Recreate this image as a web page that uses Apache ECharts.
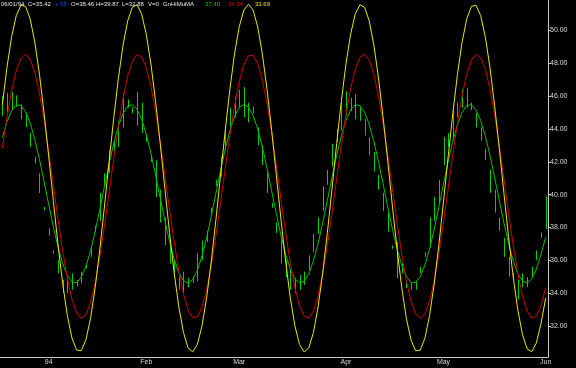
<!DOCTYPE html>
<html><head><meta charset="utf-8">
<script src="https://cdn.jsdelivr.net/npm/echarts@6/dist/echarts.min.js"></script>
<style>html,body{margin:0;padding:0;background:#000;}#c{width:576px;height:368px;}</style>
</head><body><div id="c"></div>
<script>
// Trading dates (MM/DD/YY)
const dates = [
'12/20/93','12/21/93','12/22/93','12/23/93','12/24/93','12/27/93','12/28/93','12/29/93','12/30/93','12/31/93',
'01/03/94','01/04/94','01/05/94','01/06/94','01/07/94','01/10/94','01/11/94','01/12/94','01/13/94','01/14/94',
'01/17/94','01/18/94','01/19/94','01/20/94','01/21/94','01/24/94','01/25/94','01/26/94','01/27/94','01/28/94','01/31/94',
'02/01/94','02/02/94','02/03/94','02/04/94','02/07/94','02/08/94','02/09/94','02/10/94','02/11/94',
'02/14/94','02/15/94','02/16/94','02/17/94','02/18/94','02/21/94','02/22/94','02/23/94','02/24/94','02/25/94','02/28/94',
'03/01/94','03/02/94','03/03/94','03/04/94','03/07/94','03/08/94','03/09/94','03/10/94','03/11/94',
'03/14/94','03/15/94','03/16/94','03/17/94','03/18/94','03/21/94','03/22/94','03/23/94','03/24/94','03/25/94',
'03/28/94','03/29/94','03/30/94','03/31/94',
'04/01/94','04/04/94','04/05/94','04/06/94','04/07/94','04/08/94','04/11/94','04/12/94','04/13/94','04/14/94','04/15/94',
'04/18/94','04/19/94','04/20/94','04/21/94','04/22/94','04/25/94','04/26/94','04/27/94','04/28/94','04/29/94',
'05/02/94','05/03/94','05/04/94','05/05/94','05/06/94','05/09/94','05/10/94','05/11/94','05/12/94','05/13/94',
'05/16/94','05/17/94','05/18/94','05/19/94','05/20/94','05/23/94','05/24/94','05/25/94','05/26/94','05/27/94',
'05/30/94','05/31/94','06/01/94'
];
const barHigh = [46.0,46.2,46.25,46.05,45.5,45.0,43.75,42.3,41.3,39.25,
37.95,36.6,36.0,34.8,34.95,35.2,34.8,35.3,35.7,36.9,
38.1,40.1,41.3,42.7,43.3,44.5,46.2,45.8,45.35,46.25,
45.6,43.6,42.4,42.1,40.3,38.6,37.2,36.0,35.2,35.3,
34.9,35.0,36.4,37.2,37.8,39.2,40.9,42.3,44.2,45.3,
45.95,46.4,46.55,45.6,45.35,44.1,43.0,41.4,39.5,38.3,
37.5,36.0,35.4,34.9,35.1,35.3,36.3,37.6,38.6,40.5,
41.5,43.1,44.0,45.6,46.3,45.9,46.1,45.3,44.6,43.5,
42.6,41.2,40.1,38.9,36.9,37.1,35.8,34.8,34.6,34.7,
35.6,36.5,38.6,39.85,40.9,43.5,43.75,45.15,45.6,46.4,
46.5,45.6,45.0,44.1,42.8,41.5,40.3,38.6,37.35,36.2,
35.2,34.8,35.2,34.97,35.6,36.6,37.7,39.9];
const barLow = [44.8,45.0,45.15,45.35,44.6,44.1,42.9,41.9,40.1,39.05,
37.5,36.4,35.2,34.0,34.0,34.2,34.4,34.6,35.5,36.2,
37.7,38.4,40.5,41.3,42.5,42.9,44.1,45.3,44.95,44.2,
43.75,43.2,42.0,39.85,38.3,36.9,35.8,35.2,34.2,34.0,
34.35,34.6,34.7,36.0,37.1,38.75,40.5,41.1,42.7,43.75,
44.7,45.3,44.7,44.4,44.95,43.0,41.8,40.1,39.2,37.65,
35.8,34.97,34.2,34.0,34.2,34.5,35.4,36.5,37.6,39.0,
40.6,41.7,43.2,43.9,44.8,45.1,44.6,44.5,43.6,42.4,
41.4,40.3,39.0,37.7,36.7,34.9,35.2,34.3,34.2,34.2,
35.2,36.2,36.8,38.4,39.5,41.8,42.9,43.3,44.7,45.3,
45.3,45.15,44.1,43.3,42.1,40.1,38.9,37.8,36.2,35.0,
34.8,33.6,34.35,34.35,34.97,36.0,37.35,37.9];
const greenMA = [43.47,44.44,45.12,45.46,45.44,45.06,44.35,43.36,42.14,40.79,
39.38,38.02,36.80,35.79,35.06,34.67,34.63,34.96,35.62,36.57,
37.76,39.10,40.51,41.88,43.13,44.17,44.95,45.39,45.48,45.21,
44.60,43.68,42.52,41.20,39.80,38.42,37.15,36.07,35.25,34.75,
34.60,34.82,35.39,36.26,37.39,38.69,40.09,41.48,42.78,43.89,
44.75,45.30,45.50,45.33,44.82,43.99,42.89,41.61,40.22,38.83,
37.51,36.36,35.46,34.86,34.61,34.72,35.18,35.97,37.03,38.29,
39.66,41.07,42.40,43.58,44.52,45.17,45.48,45.42,45.01,44.27,
43.24,42.01,40.65,39.24,37.89,36.69,35.70,35.01,34.65,34.65,
35.01,35.70,36.69,37.89,39.25,40.65,42.01,43.25,44.27,45.01,
45.42,45.48,45.17,44.52,43.58,42.40,41.06,39.66,38.28,37.03,
35.97,35.18,34.72,34.61,34.87,35.46,36.37,37.40];
const redMA = [42.81,44.70,46.32,47.54,48.30,48.55,48.25,47.44,46.17,44.52,
42.61,40.55,38.49,36.56,34.90,33.61,32.78,32.45,32.67,33.41,
34.62,36.21,38.10,40.14,42.21,44.16,45.87,47.22,48.13,48.53,
48.39,47.73,46.59,45.05,43.20,41.17,39.10,37.12,35.36,33.95,
32.97,32.50,32.55,33.14,34.21,35.70,37.51,39.52,41.59,43.59,
45.39,46.86,47.91,48.46,48.49,47.98,46.98,45.55,43.78,41.79,
39.72,37.70,35.86,34.33,33.21,32.58,32.48,32.91,33.84,35.21,
36.94,38.90,40.97,43.01,44.88,46.46,47.64,48.36,48.54,48.19,
47.33,46.02,44.34,42.40,40.34,38.29,36.38,34.75,33.50,32.72,
32.45,32.72,33.51,34.76,36.39,38.30,40.35,42.41,44.35,46.02,
47.34,48.20,48.54,48.35,47.64,46.45,44.87,43.00,40.96,38.89,
36.93,35.21,33.83,32.90,32.47,32.58,33.22,34.34];
const yellowMA = [45.45,47.76,49.62,50.91,51.54,51.47,50.70,49.29,47.32,44.94,
42.30,39.57,36.93,34.57,32.63,31.25,30.52,30.48,31.15,32.46,
34.35,36.68,39.30,42.03,44.69,47.11,49.12,50.59,51.42,51.57,
51.00,49.77,47.96,45.69,43.11,40.38,37.70,35.24,33.16,31.60,
30.65,30.41,30.87,32.00,33.73,35.94,38.49,41.21,43.91,46.42,
48.57,50.21,51.25,51.60,51.25,50.21,48.56,46.41,43.91,41.20,
38.49,35.94,33.73,32.00,30.86,30.41,30.66,31.60,33.16,35.24,
37.70,40.39,43.11,45.69,47.97,49.78,51.01,51.57,51.42,50.59,
49.12,47.11,44.69,42.02,39.29,36.68,34.35,32.46,31.14,30.48,
30.52,31.25,32.63,34.57,36.94,39.57,42.30,44.94,47.33,49.29,
50.70,51.47,51.54,50.91,49.62,47.76,45.44,42.84,40.11,37.44,
35.00,32.97,31.47,30.60,30.42,30.96,32.15,33.69];
const yTickValues = [32,34,36,38,40,42,44,46,48,50];
const monthLabels = {'01':'94','02':'Feb','03':'Mar','04':'Apr','05':'May','06':'Jun'};
const headerItems = [
  ['06/01/94','#e8e8e8'],['C=35.42','#e8e8e8'],['+.95','#2040ff'],['O=38.46','#e8e8e8'],
  ['H=39.87','#e8e8e8'],['L=32.88','#e8e8e8'],['V=0','#e8e8e8'],['GnHiMuMA','#e8e8e8'],
  ['37.40','#00d000'],['34.34','#e00000'],['33.69','#e8e800']
];

function isMonthStart(i){ return i>0 && dates[i].slice(0,2)!==dates[i-1].slice(0,2); }
function isMonday(s){ const m=+s.slice(0,2), d=+s.slice(3,5), y=1900+(+s.slice(6,8)); return new Date(Date.UTC(y,m-1,d)).getUTCDay()===1; }

const chart = echarts.init(document.getElementById('c'), null, {renderer:'canvas'});
const hx = [1,28,55,71,96,122,148,163,205,228,255];
const graphics = headerItems.map((h,k)=>({type:'text', x:hx[k], y:1, z:100,
  style:{text:h[0], fill:h[1], font:'6px "Liberation Sans", Arial, sans-serif'}}));

chart.setOption({
  backgroundColor:'#000',
  animation:false,
  grid:{left:0, right:28, top:0, bottom:11, containLabel:false},
  xAxis:{type:'category', data:dates, boundaryGap:true,
    axisLine:{lineStyle:{color:'#c8c8c8', width:1}},
    axisTick:{alignWithLabel:true, length:3, lineStyle:{color:'#c8c8c8'},
      interval:(i,v)=>isMonday(v)||isMonthStart(i)},
    axisLabel:{interval:(i)=>isMonthStart(i), formatter:(v)=>monthLabels[v.slice(0,2)],
      color:'#d8d8d8', fontSize:7, margin:2, fontFamily:'Liberation Sans'},
    splitLine:{show:false}},
  yAxis:{type:'value', position:'right', min:30.1, max:51.86, scale:true,
    axisLine:{show:true, lineStyle:{color:'#c8c8c8', width:1}},
    axisTick:{show:true, length:3, customValues:yTickValues, lineStyle:{color:'#c8c8c8'}},
    axisLabel:{customValues:yTickValues, formatter:(v)=>v.toFixed(2), color:'#d8d8d8', fontSize:7, margin:2, fontFamily:'Liberation Sans'},
    splitLine:{show:false}},
  graphic:graphics,
  series:[
    {type:'custom', name:'bars', data:dates.map((d,i)=>[i, barLow[i], barHigh[i]]),
      encode:{x:0, y:[1,2]}, z:2,
      renderItem:(params, api)=>{
        const a = api.coord([api.value(0), api.value(1)]);
        const b = api.coord([api.value(0), api.value(2)]);
        const x = Math.round(a[0]) + 0.5;
        return {type:'line', shape:{x1:x, y1:a[1], x2:x, y2:b[1]}, style:{stroke:'#00d000', lineWidth:1}};
      }},
    {type:'line', data:greenMA, symbol:'none', lineStyle:{color:'#00c000', width:1}, z:3},
    {type:'line', data:redMA, symbol:'none', lineStyle:{color:'#d00000', width:1}, z:4},
    {type:'line', data:yellowMA, symbol:'none', lineStyle:{color:'#e8e800', width:1}, z:5}
  ]
});
</script></body></html>
